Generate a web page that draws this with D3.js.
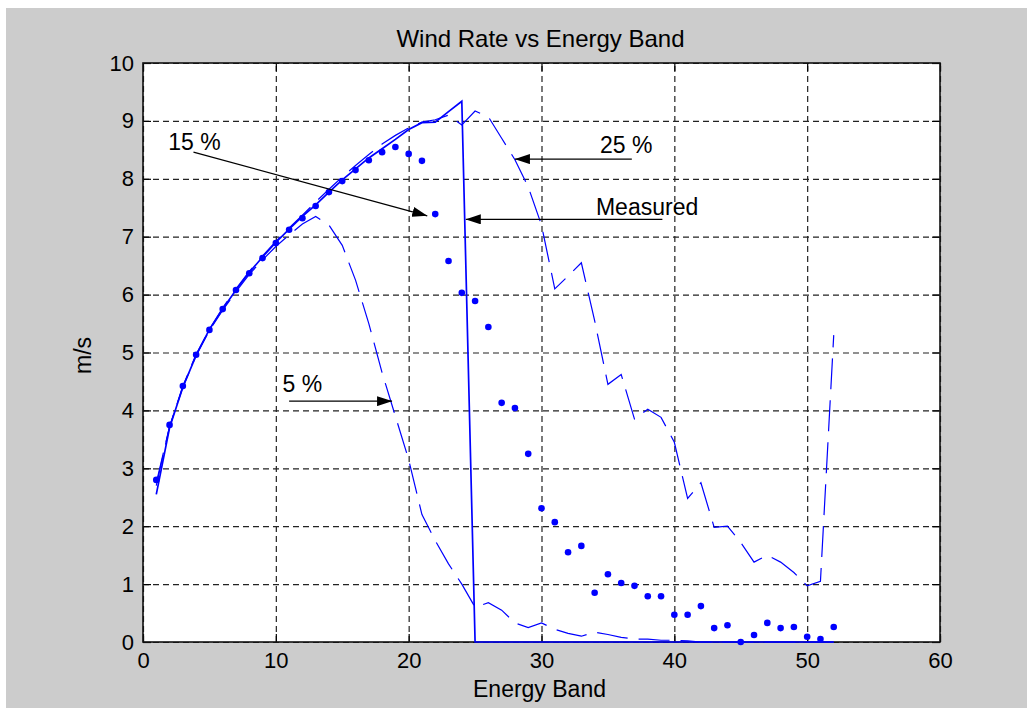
<!DOCTYPE html>
<html>
<head>
<meta charset="utf-8">
<script src="https://cdn.jsdelivr.net/npm/d3@7"></script>
<style>
  html, body { margin: 0; padding: 0; background: #ffffff; }
  svg text { font-family: "Liberation Sans", Arial, Helvetica, sans-serif; fill: #000; }
</style>
</head>
<body>
<svg id="chart" width="1031" height="710"></svg>
<script>
// Energy bands 1..52
const bands = d3.range(1, 53);

// Measured wind rate (solid line)
const measured = [2.55, 3.70, 4.40, 4.95, 5.40, 5.75, 6.08, 6.38, 6.65, 6.90,
  7.13, 7.35, 7.55, 7.77, 7.98, 8.17, 8.36, 8.52, 8.68, 8.85,
  8.97, 8.98, 9.16, 9.34, 0, 0, 0, 0, 0, 0,
  0, 0, 0, 0, 0, 0, 0, 0, 0, 0,
  0, 0, 0, 0, 0, 0, 0, 0, 0, 0,
  0, 0];

// 15 % case (dots)
const pct15 = [2.80, 3.75, 4.42, 4.96, 5.39, 5.75, 6.08, 6.37, 6.63, 6.89,
  7.12, 7.32, 7.53, 7.77, 7.96, 8.15, 8.32, 8.46, 8.55, 8.43,
  8.31, 7.39, 6.58, 6.03, 5.89, 5.44, 4.13, 4.04, 3.25, 2.31,
  2.07, 1.55, 1.66, 0.85, 1.17, 1.02, 0.97, 0.79, 0.79, 0.47,
  0.47, 0.62, 0.24, 0.29, 0.00, 0.12, 0.33, 0.24, 0.26, 0.09,
  0.05, 0.26];

// 5 % case (dashed)
const pct5 = [2.75, 3.72, 4.40, 4.95, 5.38, 5.73, 6.05, 6.35, 6.60, 6.83,
  7.03, 7.22, 7.35, 7.20, 6.85, 6.25, 5.50, 4.65, 3.90, 3.15,
  2.20, 1.75, 1.35, 1.00, 0.60, 0.68, 0.55, 0.33, 0.25, 0.33,
  0.22, 0.15, 0.10, 0.17, 0.13, 0.08, 0.05, 0.05, 0.03, 0.03,
  0.02, 0, 0, 0, 0, 0, 0, 0, 0, 0,
  0, 0];

// 25 % case (dashed)
const pct25 = [2.70, 3.72, 4.42, 4.97, 5.40, 5.77, 6.10, 6.40, 6.67, 6.92,
  7.15, 7.37, 7.60, 7.82, 8.03, 8.23, 8.42, 8.60, 8.75, 8.88,
  8.98, 9.02, 9.10, 8.93, 9.17, 9.07, 8.70, 8.33, 7.86, 7.20,
  6.10, 6.32, 6.55, 5.55, 4.45, 4.62, 3.85, 4.02, 3.88, 3.45,
  2.48, 2.75, 1.98, 2.00, 1.72, 1.38, 1.50, 1.38, 1.20, 0.97,
  1.05, 5.30];

const xTicks = [0, 10, 20, 30, 40, 50, 60];
const yTicks = [0, 1, 2, 3, 4, 5, 6, 7, 8, 9, 10];

// Callout labels with their arrows (data coordinates)
const noteLabels = ["15 %", "25 %", "Measured", "5 %"];
const noteTextX  = [1.9, 34.4, 34.1, 10.5];
const noteTextY  = [8.5, 8.45, 7.38, 4.32];
const noteTailX  = [3.8, 36.8, 39.1, 11.0];
const noteTailY  = [8.46, 8.34, 7.30, 4.16];
const noteHeadX  = [21.4, 28.0, 24.3, 18.75];
const noteHeadY  = [7.36, 8.34, 7.30, 4.16];

const svg = d3.select("#chart");
const W = 1031, H = 710;
const axL = 143, axR = 940, axT = 63, axB = 642;

const x = d3.scaleLinear().domain([0, 60]).range([axL, axR]);
const y = d3.scaleLinear().domain([0, 10]).range([axB, axT]);

// figure background
svg.append("rect").attr("x", 6).attr("y", 8).attr("width", W - 10).attr("height", H - 10)
  .attr("fill", "#cccccc");

// axes area
svg.append("rect").attr("x", axL).attr("y", axT)
  .attr("width", axR - axL).attr("height", axB - axT).attr("fill", "#ffffff");

// dotted grid
const grid = svg.append("g").attr("class", "grid");
grid.append("g").attr("transform", `translate(0,${axB})`)
  .call(d3.axisBottom(x).tickValues(xTicks).tickSize(-(axB - axT)).tickFormat(""))
  .call(g => g.select(".domain").remove());
grid.append("g").attr("transform", `translate(${axL},0)`)
  .call(d3.axisLeft(y).tickValues(yTicks).tickSize(-(axR - axL)).tickFormat(""))
  .call(g => g.select(".domain").remove());
grid.selectAll("line").attr("stroke", "#222").attr("stroke-width", 1.2)
  .attr("stroke-dasharray", "6,4");

// axis box with inward ticks on all sides
const axes = svg.append("g");
const tick = 8;
axes.append("g").attr("transform", `translate(0,${axB})`)
  .call(d3.axisBottom(x).tickValues(xTicks).tickSizeInner(-tick).tickSizeOuter(0).tickPadding(10))
  .call(g => g.selectAll("text").attr("font-size", 22).attr("dy", "0.71em"));
axes.append("g").attr("transform", `translate(0,${axT})`)
  .call(d3.axisTop(x).tickValues(xTicks).tickSizeInner(-tick).tickSizeOuter(0).tickFormat(""));
axes.append("g").attr("transform", `translate(${axL},0)`)
  .call(d3.axisLeft(y).tickValues(yTicks).tickSizeInner(-tick).tickSizeOuter(0).tickPadding(9))
  .call(g => g.selectAll("text").attr("font-size", 22));
axes.append("g").attr("transform", `translate(${axR},0)`)
  .call(d3.axisRight(y).tickValues(yTicks).tickSizeInner(-tick).tickSizeOuter(0).tickFormat(""));
axes.selectAll("text").attr("font-family", "Liberation Sans, Arial, sans-serif").attr("fill", "#000");
axes.selectAll(".domain").remove();
axes.selectAll("line").attr("stroke", "#000").attr("stroke-width", 1.2);
svg.append("rect").attr("x", axL).attr("y", axT)
  .attr("width", axR - axL).attr("height", axB - axT)
  .attr("fill", "none").attr("stroke", "#111").attr("stroke-width", 1.6);

// data series, drawn over the axis frame
const line = d3.line().x((d, i) => x(bands[i])).y(d => y(d));
const plot = svg.append("g");
plot.append("path").datum(pct5).attr("d", line).attr("fill", "none")
  .attr("stroke", "#0000ff").attr("stroke-width", 1.2).attr("stroke-dasharray", "31,11");
plot.append("path").datum(pct25).attr("d", line).attr("fill", "none")
  .attr("stroke", "#0000ff").attr("stroke-width", 1.2).attr("stroke-dasharray", "31,11");
plot.append("path").datum(measured).attr("d", line).attr("fill", "none")
  .attr("stroke", "#0000ff").attr("stroke-width", 1.7);
plot.selectAll("circle.p15").data(pct15).enter().append("circle")
  .attr("class", "p15")
  .attr("cx", (d, i) => x(bands[i])).attr("cy", d => y(d)).attr("r", 3.3)
  .attr("fill", "#0000ff");

// titles
svg.append("text").attr("x", (axL + axR) / 2 - 1).attr("y", 47)
  .attr("text-anchor", "middle").attr("font-size", 24).text("Wind Rate vs Energy Band");
svg.append("text").attr("x", (axL + axR) / 2 - 2).attr("y", 697)
  .attr("text-anchor", "middle").attr("font-size", 23).text("Energy Band");
svg.append("text").attr("transform", `translate(91,${(axT + axB) / 2 + 3}) rotate(-90)`)
  .attr("text-anchor", "middle").attr("font-size", 23).text("m/s");

// callouts
svg.append("defs").append("marker")
  .attr("id", "head").attr("viewBox", "0 0 15 10")
  .attr("refX", 15).attr("refY", 5)
  .attr("markerWidth", 15).attr("markerHeight", 10)
  .attr("markerUnits", "userSpaceOnUse").attr("orient", "auto")
  .append("path").attr("d", "M0,0 L15,5 L0,10 Z").attr("fill", "#000");

const notes = svg.append("g");
noteLabels.forEach((lab, i) => {
  notes.append("line")
    .attr("x1", x(noteTailX[i])).attr("y1", y(noteTailY[i]))
    .attr("x2", x(noteHeadX[i])).attr("y2", y(noteHeadY[i]))
    .attr("stroke", "#000").attr("stroke-width", 1.3)
    .attr("marker-end", "url(#head)");
  notes.append("text").attr("x", x(noteTextX[i])).attr("y", y(noteTextY[i]))
    .attr("font-size", 23).text(lab);
});
</script>
</body>
</html>
